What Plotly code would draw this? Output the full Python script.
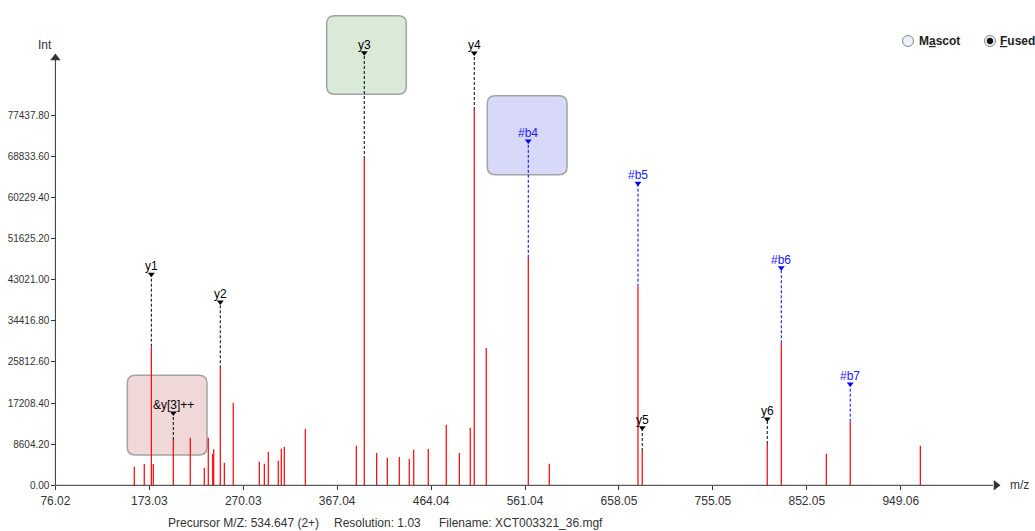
import plotly.graph_objects as go

# ---------------- data ----------------
peak_mz = [157.5, 167.8, 175.1, 177.1, 197.8, 215.3, 229.8, 233.9, 238.5, 239.5,
           246.3, 250.5, 259.7, 286.6, 291.8, 295.9, 306.2, 309.3, 312.4, 334.1,
           386.8, 395.0, 407.8, 418.8, 431.2, 441.5, 446.1, 461.1, 479.7, 493.2,
           504.5, 508.6, 521.0, 564.4, 586.1, 677.7, 682.1, 811.2, 825.7, 872.2,
           896.9, 969.3]
peak_int = [3894, 4459, 29010, 4459, 9484, 9965, 3685, 9965, 6553, 7537,
            24494, 4731, 17293, 4941, 4522, 7034, 5150, 7662, 8081, 11849,
            8290, 68290, 6762, 5715, 5925, 5506, 7453, 7600, 12687, 6762,
            12059, 78546, 28735, 47609, 4522, 41565, 7180, 8646, 29728, 6616,
            13315, 8290]

ion_labels = ["y1", "&y[3]++", "y2", "y3", "y4", "#b4", "#b5", "y5", "y6", "#b6", "#b7"]
ion_mz = [175.1, 197.8, 246.3, 395.0, 508.6, 564.4, 677.7, 682.1, 811.2, 825.7, 896.9]
ion_label_level = [44160, 15132, 38363, 90539, 90476, 72059, 63206, 12055, 13876, 45542, 21201]

x_ticks = [76.02, 173.03, 270.03, 367.04, 464.04, 561.04, 658.05, 755.05, 852.05, 949.06]
y_ticks = [0.00, 8604.20, 17208.40, 25812.60, 34416.80, 43021.00, 51625.20,
           60229.40, 68833.60, 77437.80]

info_texts = ["Precursor M/Z: 534.647 (2+)", "Resolution: 1.03", "Filename: XCT003321_36.mgf"]

# ---------------- geometry helpers (pixel <-> data) ----------------
W, H = 1035, 531
X0_PX, PX_PER_MZ = 55.4, 0.96826
Y0_PX, INT_PER_PX = 485.3, 209.29


def mz_at(px):
    return x_ticks[0] + (px - X0_PX) / PX_PER_MZ


def int_at(py):
    return (Y0_PX - py) * INT_PER_PX


FONT = "Liberation Sans, Arial, sans-serif"
AXIS_COL = "#333333"

fig = go.Figure()

# peaks as vertical sticks
px_, py_ = [], []
for m, v in zip(peak_mz, peak_int):
    px_ += [m, m, None]
    py_ += [0, v, None]
fig.add_trace(go.Scatter(x=px_, y=py_, mode="lines",
                         line=dict(color="#ff0000", width=1.2),
                         hoverinfo="skip", showlegend=False))

# dashed lines from peak tip up to the label marker
lookup = dict(zip(peak_mz, peak_int))
for lab, m, lev in zip(ion_labels, ion_mz, ion_label_level):
    col = "#0000ff" if lab.startswith("#") else "#000000"
    fig.add_trace(go.Scatter(x=[m, m], y=[lookup[m], lev], mode="lines",
                             line=dict(color=col, width=1, dash="3px,2px"),
                             hoverinfo="skip", showlegend=False))
    fig.add_trace(go.Scatter(x=[m], y=[lev], mode="markers",
                             marker=dict(symbol="triangle-down", size=6, color=col,
                                         line=dict(width=0)),
                             hoverinfo="skip", showlegend=False))
    fig.add_annotation(x=m, y=lev, text=lab, showarrow=False, yanchor="bottom",
                       yshift=-1, font=dict(family=FONT, size=12,
                                            color="#2020ff" if col == "#0000ff" else "#000000"))


# rounded highlight boxes
def rrect(px0, px1, py0, py1, r=8):
    x0, x1 = mz_at(px0), mz_at(px1)
    y0, y1 = int_at(py0), int_at(py1)  # y0 top (larger), y1 bottom
    rx, ry = r / PX_PER_MZ, r * INT_PER_PX
    return (f"M{x0+rx},{y0} L{x1-rx},{y0} Q{x1},{y0} {x1},{y0-ry} "
            f"L{x1},{y1+ry} Q{x1},{y1} {x1-rx},{y1} L{x0+rx},{y1} "
            f"Q{x0},{y1} {x0},{y1+ry} L{x0},{y0-ry} Q{x0},{y0} {x0+rx},{y0} Z")


boxes = [((326.7, 406.3, 15.7, 94.3), "#d9ead8"),
         ((487.3, 567.0, 95.7, 174.7), "#d8d8f9"),
         ((127.3, 207.0, 375.3, 455.0), "#f0d7d8")]
shapes = []
for (a, b, c, d), fc in boxes:
    shapes.append(dict(type="path", path=rrect(a, b, c, d), xref="x", yref="y",
                       fillcolor=fc, line=dict(color="#a3a3a3", width=1.5), layer="below"))

# axis lines
x_end = mz_at(993)
y_end = int_at(60)
shapes.append(dict(type="line", xref="x", yref="y", x0=x_ticks[0], x1=x_end, y0=0, y1=0,
                   line=dict(color=AXIS_COL, width=1)))
shapes.append(dict(type="line", xref="x", yref="y", x0=x_ticks[0], x1=x_ticks[0], y0=0, y1=y_end,
                   line=dict(color=AXIS_COL, width=1)))
# arrow heads
fig.add_trace(go.Scatter(x=[mz_at(996)], y=[0], mode="markers",
                         marker=dict(symbol="triangle-right", size=9, color=AXIS_COL),
                         hoverinfo="skip", showlegend=False))
fig.add_trace(go.Scatter(x=[x_ticks[0]], y=[int_at(58)], mode="markers",
                         marker=dict(symbol="triangle-up", size=9, color=AXIS_COL),
                         hoverinfo="skip", showlegend=False))

# radio buttons
def circ(cx, cy, r, fill, line):
    return dict(type="circle", xref="paper", yref="paper",
                x0=(cx - r) / W, x1=(cx + r) / W, y0=1 - (cy + r) / H, y1=1 - (cy - r) / H,
                fillcolor=fill, line=dict(color=line, width=1))


shapes.append(circ(908, 41, 5.5, "#eef2f6", "#7a8a9a"))
shapes.append(circ(990, 41, 5.5, "#eef2f6", "#7a8a9a"))
shapes.append(circ(990, 41, 2.8, "#111111", "#111111"))

ann = [
    dict(text="M<u>a</u>scot", x=917 / W, y=1 - 41 / H),
    dict(text="<u>F</u>used", x=998 / W, y=1 - 41 / H),
]
for a in ann:
    fig.add_annotation(xref="paper", yref="paper", x=a["x"], y=a["y"], text="<b>" + a["text"] + "</b>",
                       showarrow=False, xanchor="left", yanchor="middle",
                       font=dict(family=FONT, size=12, color="#222222"))

# axis titles
fig.add_annotation(xref="paper", yref="paper", x=54 / W, y=1 - 45 / H, text="Int",
                   showarrow=False, xanchor="right", yanchor="middle",
                   font=dict(family=FONT, size=12, color=AXIS_COL))
fig.add_annotation(xref="paper", yref="paper", x=1008 / W, y=1 - 485 / H, text="m/z",
                   showarrow=False, xanchor="left", yanchor="middle",
                   font=dict(family=FONT, size=12, color=AXIS_COL))

# footer info
for t, xp in zip(info_texts, [166, 332, 437]):
    fig.add_annotation(xref="paper", yref="paper", x=xp / W, y=1 - 523 / H, text=t,
                       showarrow=False, xanchor="left", yanchor="middle",
                       font=dict(family=FONT, size=12, color=AXIS_COL))

fig.update_layout(
    width=W, height=H,
    margin=dict(l=0, r=0, t=0, b=0, autoexpand=False),
    paper_bgcolor="white", plot_bgcolor="white",
    shapes=shapes,
    showlegend=False,
    xaxis=dict(range=[mz_at(0), mz_at(W)], showgrid=False, zeroline=False, showline=False,
               tickvals=x_ticks, ticktext=[f"{v:.2f}" for v in x_ticks],
               ticks="outside", ticklen=4, tickcolor=AXIS_COL,
               anchor="free", position=1 - Y0_PX / H,
               tickfont=dict(family=FONT, size=12, color=AXIS_COL), fixedrange=True),
    yaxis=dict(range=[int_at(H), int_at(0)], showgrid=False, zeroline=False, showline=False,
               tickvals=y_ticks, ticktext=[f"{v:.2f}" for v in y_ticks],
               ticks="outside", ticklen=4, tickcolor=AXIS_COL,
               anchor="free", position=X0_PX / W,
               tickfont=dict(family=FONT, size=10, color=AXIS_COL), fixedrange=True),
)

fig.write_html("out.html", config={"displayModeBar": False},
               post_script="document.body.style.margin='0';document.body.style.overflow='hidden';")
